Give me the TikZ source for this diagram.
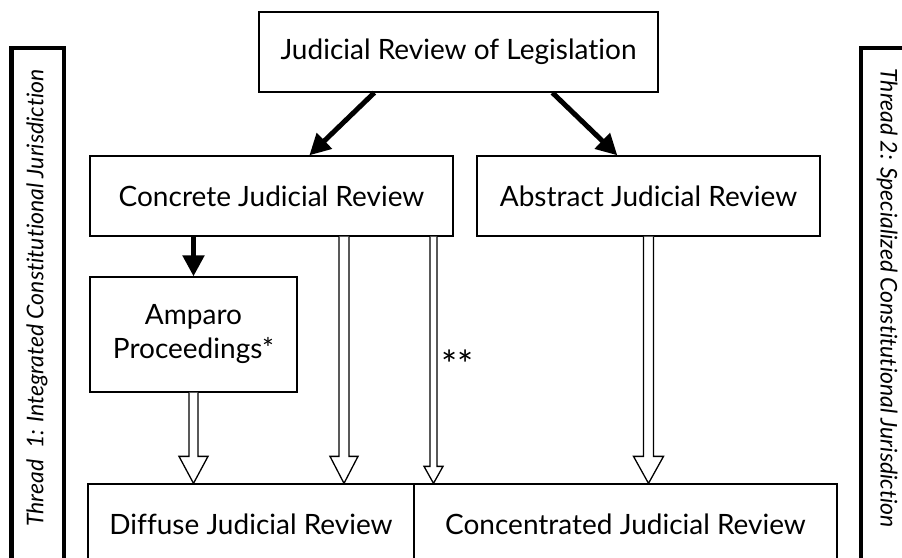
\documentclass[tikz,border=0pt]{standalone}
\usepackage{fontspec}
\setmainfont{Lato}[Ligatures={NoCommon}]
\usetikzlibrary{arrows.meta,calc}
\newcommand\hollowarrow[5]{%
  \path[hollow] let \p1=#1, \p2=#2 in
    (\x1-#3,\y1) -- (\x1-#3,\y2+#5) -- (\x1-#4,\y2+#5) -- (\x1,\y2)
    -- (\x1+#4,\y2+#5) -- (\x1+#3,\y2+#5) -- (\x1+#3,\y1);}
\begin{document}
\begin{tikzpicture}[x=1pt,y=-1pt,
  box/.style={draw, line width=1.3pt, inner sep=0pt, align=center,
    font=\fontsize{28}{32}\selectfont},
  bigarrow/.style={line width=5pt, -{Triangle[length=21pt,width=21pt]}},
  threadframe/.style={line width=4.5pt},
  threadtext/.style={font=\itshape\fontsize{23}{26}\selectfont},
  hollow/.style={draw, line width=1.3pt, fill=white, line join=miter},
  lbl/.style={font=\fontsize{38}{40}\selectfont, inner sep=0pt}]
\useasboundingbox (0,0) rectangle (902,557);
\clip (0,0) rectangle (902,557);

% thread frames
\draw[threadframe] (11.5,565) |- (64,48) -- (64,565);
\draw[threadframe] (861,565) |- (915,48);
\node[threadtext, rotate=90] (t1) at (37,298) {Thread\ \ 1: Integrated Constitutional Jurisdiction};
\node[threadtext, rotate=-90] (t2) at (887,298) {Thread 2: Specialized Constitutional Jurisdiction};

% boxes
\node[box, minimum width=399pt, minimum height=80pt] (top) at (458.5,52) {Judicial Review of Legislation};
\node[box, minimum width=363pt, minimum height=80pt] (conc) at (271.5,196) {Concrete Judicial Review};
\node[box, minimum width=343pt, minimum height=80pt] (abs) at (648.5,196) {Abstract Judicial Review};
\node[box, minimum width=207pt, minimum height=115pt] (amp) at (193.5,334.5) {Amparo\\[2pt]Proceedings*};
\node[box, minimum width=326pt, minimum height=80pt] (dif) at (251,524) {Diffuse Judicial Review};
\node[box, minimum width=423pt, minimum height=80pt] (con) at (625.5,524) {Concentrated Judicial Review};

% solid arrows
\draw[bigarrow] ($(top.south west)+(116,0)$) -- ($(conc.north west)+(220,0)$);
\draw[bigarrow] ($(top.south west)+(294,0)$) -- ($(abs.north west)+(141,0)$);
\draw[bigarrow] (amp.north |- conc.south) -- (amp.north);

% hollow arrows
\coordinate (c2) at (344,0);
\coordinate (c3) at (433.5,0);
\hollowarrow{(amp.south)}{(amp.south |- dif.north)}{4.5pt}{14.5pt}{27pt}
\hollowarrow{(c2 |- conc.south)}{(c2 |- dif.north)}{5pt}{14pt}{27pt}
\hollowarrow{(c3 |- conc.south)}{(c3 |- con.north)}{3.5pt}{9.5pt}{17pt}
\hollowarrow{(abs.south)}{(abs.south |- con.north)}{5pt}{15pt}{27pt}

\node[lbl, anchor=west] (stars) at (441,364) {**};
\end{tikzpicture}
\end{document}
